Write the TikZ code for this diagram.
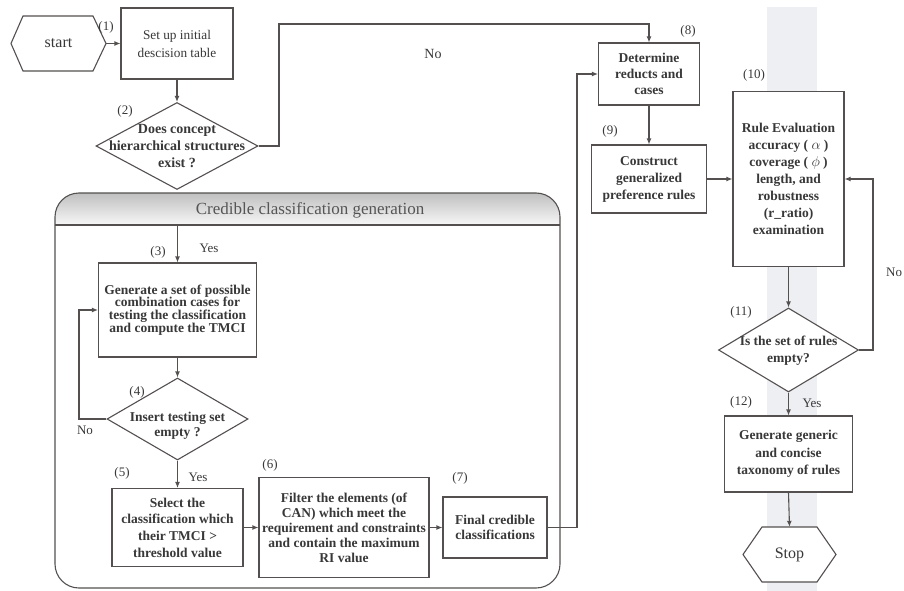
\documentclass[tikz,border=0pt]{standalone}
\usepackage{fontspec}
\setmainfont{Liberation Serif}
\usetikzlibrary{arrows.meta,shapes.geometric}
\definecolor{linec}{HTML}{555050}
\definecolor{txtc}{HTML}{383838}
\definecolor{bandc}{HTML}{EDEFF3}
\definecolor{hdrtxt}{HTML}{555555}
\begin{document}
\begin{tikzpicture}[x=1pt,y=-1pt,
  box/.style={draw=linec, line width=1.1pt, fill=white, inner sep=1pt, align=center, text=txtc},
  dia/.style={draw=linec, line width=1.1pt, fill=white, diamond, inner sep=0pt},
  dtext/.style={align=center, text=txtc, inner sep=0pt},
  lbl/.style={text=txtc, font=\fontsize{13}{15}\selectfont, inner sep=0pt},
  hexlbl/.style={inner sep=0pt, text=txtc, font=\fontsize{16}{18}\selectfont},
  arr/.style={draw=linec, line width=1.1pt, -{Latex[length=6pt,width=5pt]}},
  ln/.style={draw=linec, line width=1.1pt}]
\useasboundingbox (0,0) rectangle (904,591);
% light band
\fill[bandc] (767,7) rectangle (817,591);

% group container
\begin{scope}
\clip[rounded corners=24pt] (55,193) rectangle (560,588);
\fill[top color=gray!50, bottom color=gray!6] (55,193) rectangle (560,225);
\end{scope}
\draw[ln, rounded corners=24pt] (55,193) rectangle (560,588);
\draw[ln] (55,225) -- (560,225);
\node[text=hdrtxt, font=\fontsize{17}{19}\selectfont, inner sep=0pt] (hdr) at (310,210) {Credible classification generation};

% start
\fill[white] (11,43.5) -- (23,16) -- (93,16) -- (106,43.5) -- (93,71) -- (23,71) -- cycle;
\draw[ln] (11,43.5) -- (23,16) -- (93,16) -- (106,43.5) -- (93,71) -- (23,71) -- cycle;
\node[hexlbl, minimum width=95pt, minimum height=55pt] (start) at (58.5,43.5) {start};

% stop
\fill[white] (743,554.5) -- (762,527) -- (817,527) -- (836,554.5) -- (817,582) -- (762,582) -- cycle;
\draw[ln] (743,554.5) -- (762,527) -- (817,527) -- (836,554.5) -- (817,582) -- (762,582) -- cycle;
\node[hexlbl, minimum width=93pt, minimum height=55pt] (stop) at (789.5,554.5) {Stop};

% boxes
\node[box, minimum width=112pt, minimum height=71pt, font=\fontsize{13.3}{18}\selectfont] (b1) at (177,43.5) {Set up initial\\descision table};
\node[dia, minimum width=162pt, minimum height=87pt] (d2) at (177,146) {};
\node[dtext, font=\fontsize{14}{17}\selectfont\bfseries] (t2) at (d2) {Does concept\\hierarchical structures\\exist ?};

\node[box, minimum width=158pt, minimum height=94pt, font=\fontsize{13.5}{12.8}\selectfont\bfseries] (b3) at (177.5,310) {Generate a set of possible\\combination cases for\\testing the classification\\and compute the TMCI};
\node[dia, minimum width=141pt, minimum height=82pt] (d4) at (177.5,419) {};
\node[dtext, font=\fontsize{13.5}{15}\selectfont\bfseries] (t4) at (177.5,426) {Insert testing set\\empty ?};

\node[box, minimum width=131pt, minimum height=78pt, font=\fontsize{13.5}{16.7}\selectfont\bfseries] (b5) at (177.5,527.5) {Select the\\classification which\\their TMCI >\\threshold value};
\node[box, minimum width=170pt, minimum height=100pt, font=\fontsize{13.5}{15}\selectfont\bfseries] (b6) at (344,527.5) {Filter the elements (of\\CAN) which meet the\\requirement and constraints\\and contain the maximum\\RI value};
\node[box, minimum width=104pt, minimum height=61pt, font=\fontsize{13.5}{15}\selectfont\bfseries] (b7) at (495,527.5) {Final credible\\classifications};

\node[box, minimum width=101pt, minimum height=62pt, font=\fontsize{13.5}{16}\selectfont\bfseries] (b8) at (649,74) {Determine\\reducts and\\cases};
\node[box, minimum width=115pt, minimum height=68pt, font=\fontsize{13.5}{17}\selectfont\bfseries] (b9) at (649,179) {Construct\\generalized\\preference rules};
\node[box, minimum width=111pt, minimum height=175pt, font=\fontsize{13.5}{17}\selectfont\bfseries] (b10) at (788.5,179) {Rule Evaluation\\accuracy ( $\alpha$ )\\coverage ( $\phi$ )\\length, and\\robustness\\(r\_ratio)\\examination};
\node[dia, minimum width=140pt, minimum height=84pt] (d11) at (788.5,350) {};
\node[dtext, font=\fontsize{13.5}{17}\selectfont\bfseries] (t11) at (788.5,351) {Is the set of rules\\empty?};
\node[box, minimum width=128pt, minimum height=76pt, font=\fontsize{13.5}{17.5}\selectfont\bfseries] (b12) at (788.5,454) {Generate generic\\and concise\\taxonomy of rules};

% connector helper coordinates
\coordinate (c2a) at (279,146);
\coordinate (c2b) at (279,24);
\coordinate (yin) at (177.5,226);
\coordinate (c4) at (79,419);
\coordinate (c7) at (577,527.5);
\coordinate (c11) at (873,350);

% connectors
\draw[arr] (start.east) -- (b1.west);
\draw[arr] (b1.south) -- (d2.north);
\draw[arr] (d2.east) -- (c2a) -- (c2b) -| (b8.north);
\draw[arr] (yin) -- (b3.north);
\draw[arr] (b3.south) -- (d4.north);
\draw[arr] (d4.west) -- (c4) |- (b3.west);
\draw[arr] (d4.south) -- (b5.north);
\draw[arr] (b5.east) -- (b6.west);
\draw[arr] (b6.east) -- (b7.west);
\draw[arr] (b7.east) -- (c7) |- (b8.west);
\draw[arr] (b8.south) -- (b9.north);
\draw[arr] (b9.east) -- (b10.west);
\draw[arr] (b10.south) -- (d11.north);
\draw[arr] (d11.east) -- (c11) |- (b10.east);
\draw[arr] (d11.south) -- (b12.north);
\draw[arr] (b12.south) -- (stop.north);

% labels
\node[lbl] (l1) at (106,27) {(1)};
\node[lbl] (l2) at (125,111) {(2)};
\node[lbl] (l3) at (158,252) {(3)};
\node[lbl] (l4) at (137,392) {(4)};
\node[lbl] (l5) at (122,473) {(5)};
\node[lbl] (l6) at (270,465) {(6)};
\node[lbl] (l7) at (460,478) {(7)};
\node[lbl] (l8) at (688,31) {(8)};
\node[lbl] (l9) at (610,131) {(9)};
\node[lbl] (l10) at (754,75) {(10)};
\node[lbl] (l11) at (741,312) {(11)};
\node[lbl] (l12) at (741,402) {(12)};
\node[lbl, font=\fontsize{14}{16}\selectfont] (no2) at (433,54) {No};
\node[lbl] (yes3) at (209,248) {Yes};
\node[lbl] (no4) at (85,430) {No};
\node[lbl] (yes5) at (198,477) {Yes};
\node[lbl, anchor=west] (no11) at (886,272) {No};
\node[lbl] (yes12) at (812,403) {Yes};
\end{tikzpicture}
\end{document}
